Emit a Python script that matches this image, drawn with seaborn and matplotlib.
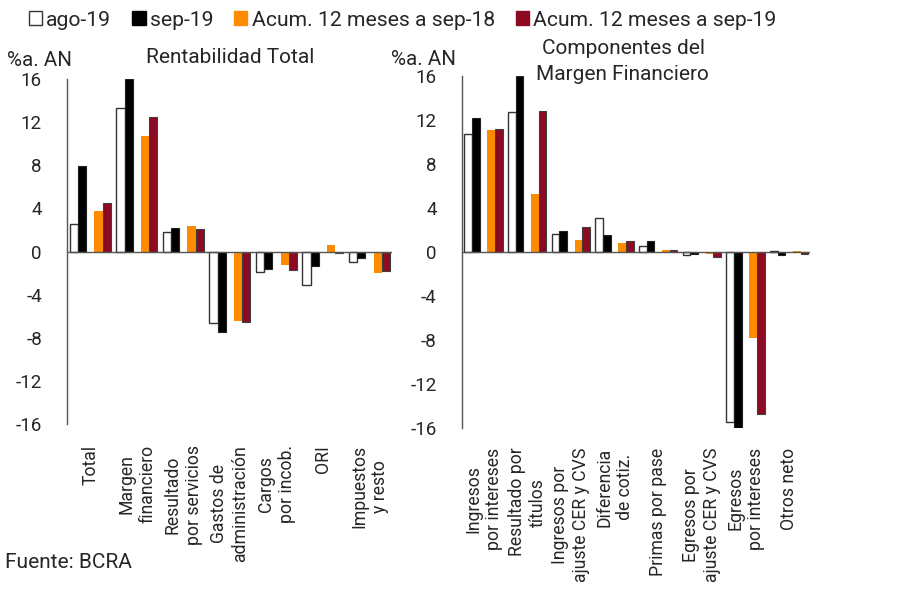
import numpy as np
import pandas as pd
import matplotlib
matplotlib.use("Agg")
import matplotlib.pyplot as plt
from matplotlib.patches import Patch
import seaborn as sns

# ---------------- data ----------------
series_names = ["ago-19", "sep-19", "Acum. 12 meses a sep-18", "Acum. 12 meses a sep-19"]

left_cats = ["Total", "Margen\nfinanciero", "Resultado\npor servicios", "Gastos de\nadministración",
             "Cargos\npor incob.", "ORI", "Impuestos\ny resto"]
left_ago19 = [2.6, 13.3, 1.8, -6.6, -1.9, -3.1, -1.0]
left_sep19 = [7.9, 16.0, 2.2, -7.4, -1.6, -1.3, -0.6]
left_acum18 = [3.8, 10.7, 2.35, -6.45, -1.25, 0.65, -2.0]
left_acum19 = [4.5, 12.5, 2.1, -6.5, -1.7, -0.1, -1.8]

right_cats = ["Ingresos\npor intereses", "Resultado por\ntítulos", "Ingresos por\najuste CER y CVS",
              "Diferencia\nde cotiz.", "Primas por pase", "Egresos por\najuste CER y CVS",
              "Egresos\npor intereses", "Otros neto"]
right_ago19 = [10.75, 12.7, 1.65, 3.05, 0.5, -0.28, -15.4, 0.1]
right_sep19 = [12.2, 16.0, 1.95, 1.5, 1.0, -0.2, -16.0, -0.27]
right_acum18 = [11.1, 5.3, 1.1, 0.8, 0.2, -0.18, -7.8, 0.05]
right_acum19 = [11.2, 12.8, 2.25, 1.0, 0.18, -0.42, -14.7, -0.15]

yticks = [-16, -12, -8, -4, 0, 4, 8, 12, 16]

# ---------------- style ----------------
sns.set_theme(style="white")
plt.rcParams["font.family"] = ["Roboto", "DejaVu Sans"]
plt.rcParams["axes.unicode_minus"] = False

fills = ["white", "black", "#FF8C00", "#8C0A22"]
edges = ["#333333", "#222222", "#FF8C00", "#404040"]
lws = [1.0, 0.8, 0.0, 0.8]
slot = 1 / 5.67
offsets = [0.5 * slot, 1.5 * slot, 3.5 * slot, 4.5 * slot]

W, H = 907, 605
fig = plt.figure(figsize=(W / 100, H / 100), dpi=100)
ax_l = fig.add_axes([67 / W, 1 - 424.3 / H, 325 / W, (424.3 - 79) / H])
ax_r = fig.add_axes([461.7 / W, 1 - 428.3 / H, 348.3 / W, (428.3 - 75.7) / H])


def draw(ax, cats, data, xmax, pad):
    idx = np.arange(len(cats))
    for k, vals in enumerate(data):
        df = pd.DataFrame({"pos": idx + offsets[k], "val": vals})
        sns.barplot(data=df, x="pos", y="val", native_scale=True, orient="x",
                    width=slot, color=fills[k], saturation=1, errorbar=None,
                    edgecolor=edges[k], linewidth=lws[k], ax=ax)
    ax.axhline(0, color="#555555", lw=1.0, zorder=5)
    ax.set_xlim(-0.06, xmax)
    ax.set_ylim(-16, 16)
    ax.set_yticks(yticks)
    ax.set_yticklabels([str(t) for t in yticks], fontsize=13.5)
    ax.set_xticks(idx + 2.5 * slot)
    ax.set_xticklabels(cats, rotation=90, fontsize=12.7, va="top", ha="center",
                       multialignment="center")
    ax.tick_params(axis="x", length=0, pad=pad)
    ax.tick_params(axis="y", direction="in", length=6, width=1, color="#555555", pad=18)
    for s in ["top", "right", "bottom"]:
        ax.spines[s].set_visible(False)
    ax.spines["left"].set_color("#555555")
    ax.spines["left"].set_linewidth(1.0)
    ax.set_xlabel("")
    ax.set_ylabel("")


draw(ax_l, left_cats, [left_ago19, left_sep19, left_acum18, left_acum19], 6.925, 15)
draw(ax_r, right_cats, [right_ago19, right_sep19, right_acum18, right_acum19], 7.92, 14)

# titles and unit labels
fs_t = 15
fig.text(7 / W, 1 - 66.5 / H, "%a. AN", fontsize=14.8, va="baseline", ha="left")
fig.text(391 / W, 1 - 65 / H, "%a. AN", fontsize=14.8, va="baseline", ha="left")
fig.text(230 / W, 1 - 62.7 / H, "Rentabilidad Total", fontsize=fs_t, va="baseline", ha="center")
fig.text(623 / W, 1 - 53.5 / H, "Componentes del", fontsize=fs_t, va="baseline", ha="center")
fig.text(622.5 / W, 1 - 80.5 / H, "Margen Financiero", fontsize=fs_t, va="baseline", ha="center")
fig.text(5 / W, 1 - 562 / H, "Fuente: BCRA", fontsize=fs_t, va="center", ha="left")

handles = [Patch(facecolor=fills[k], edgecolor=("#333333" if k == 0 else fills[k]), linewidth=1)
           for k in range(4)]
fig.legend(handles, series_names, loc="center left", bbox_to_anchor=(29 / W, 1 - 20 / H),
           ncol=4, frameon=False, handlelength=0.62, handleheight=0.62,
           handletextpad=0.2, columnspacing=1.0, borderaxespad=0, borderpad=0,
           prop={"family": ["Roboto", "DejaVu Sans"], "size": 15.2})

fig.savefig("out.png", dpi=100)
